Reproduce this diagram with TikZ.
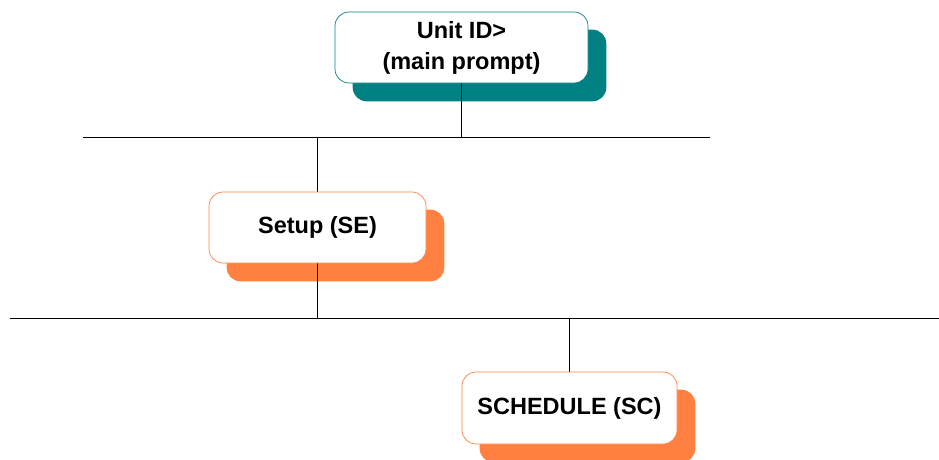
\documentclass[tikz,border=0pt]{standalone}
\usepackage{fontspec}
\setmainfont{Liberation Sans}
\definecolor{tealshade}{RGB}{0,128,128}
\definecolor{orangeshade}{RGB}{255,128,64}
\pgfdeclarelayer{background}
\pgfsetlayers{background,main}
\tikzset{
  card/.style={rectangle, rounded corners=14pt, fill=white, line width=0.7pt,
    inner sep=0pt, align=center, font=\fontsize{23.5}{31}\selectfont\bfseries},
  tealcard/.style={card, draw=tealshade},
  orangecard/.style={card, draw=orangeshade},
  bus/.style={line width=1pt, black},
  link/.style={line width=1pt, black},
}
\newcommand{\cardshadow}[2]{%
  \fill[#2, rounded corners=14pt]
    ([shift={(18,18)}]#1.south west) rectangle ([shift={(18,18)}]#1.north east);}
\begin{document}
\begin{tikzpicture}[x=1pt,y=-1pt]
\useasboundingbox (0,0) rectangle (939,460);
\clip (0,0) rectangle (939,460);

% menu cards
\node[tealcard, minimum width=253pt, minimum height=71pt] (unit) at (461.5,47.5)
  {Unit ID>\\(main prompt)};
\node[orangecard, minimum width=217pt, minimum height=71pt] (setup) at (317.5,227.5)
  {Setup (SE)};
\node[orangecard, minimum width=215pt, minimum height=72pt] (sched) at (569.5,408)
  {SCHEDULE (SC)};

% bus end points
\coordinate (b1l) at (83,137);
\coordinate (b1r) at (710,137);
\coordinate (b2l) at (10,318);
\coordinate (b2r) at (939,318);

\begin{pgfonlayer}{background}
  \cardshadow{unit}{tealshade}
  \cardshadow{setup}{orangeshade}
  \cardshadow{sched}{orangeshade}

  \draw[bus] (b1l) -- (b1r);
  \draw[bus] (b2l) -- (b2r);

  \draw[link] (unit.south) -- (unit.south |- b1l);
  \draw[link] (setup.north |- b1l) -- (setup.south |- b2l);
  \draw[link] (sched.north |- b2l) -- (sched.north);
\end{pgfonlayer}
\end{tikzpicture}
\end{document}
